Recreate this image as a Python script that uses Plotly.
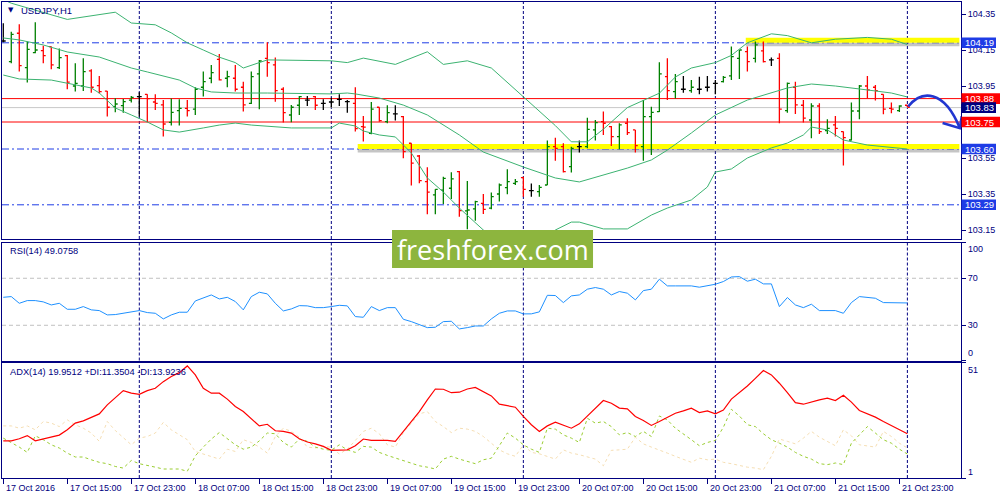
import plotly.graph_objects as go

# ---------------- data ----------------
bar_idx = list(range(114))
opens = [104.200, 104.085, 104.243, 104.052, 104.135, 104.146, 104.169, 104.052, 104.119, 103.950,
         103.950, 104.034, 103.952, 103.922, 103.835, 103.841, 103.872, 103.891, 103.904, 103.861,
         103.845, 103.748, 103.813, 103.826, 103.822, 103.943, 103.993, 104.098, 103.993, 103.993,
         103.943, 103.854, 104.017, 104.104, 104.067, 103.932, 103.789, 103.843, 103.872, 103.891,
         103.854, 103.861, 103.876, 103.863, 103.854, 103.724, 103.687, 103.832, 103.752, 103.795,
         103.780, 103.632, 103.561, 103.419, 103.345, 103.372, 103.382, 103.474, 103.256, 103.267,
         103.298, 103.271, 103.350, 103.385, 103.409, 103.441, 103.369, 103.363, 103.400, 103.613,
         103.613, 103.502, 103.613, 103.613, 103.706, 103.752, 103.724, 103.669, 103.743, 103.706,
         103.613, 103.780, 103.808, 104.002, 103.919, 103.932, 103.924, 103.932, 103.943, 103.965,
         103.974, 104.006, 104.104, 104.141, 104.104, 104.145, 104.095, 104.104, 103.813, 103.943,
         103.843, 103.761, 103.839, 103.702, 103.734, 103.697, 103.650, 103.811, 103.950, 103.943,
         103.904, 103.826, 103.813, 103.843]
highs = [104.298, 104.252, 104.293, 104.197, 104.304, 104.174, 104.169, 104.159, 104.122, 104.076,
         104.104, 104.043, 104.006, 103.922, 103.882, 103.878, 103.895, 103.915, 103.904, 103.904,
         103.872, 103.880, 103.876, 103.872, 103.943, 104.030, 104.067, 104.128, 104.035, 104.067,
         103.974, 104.030, 104.095, 104.193, 104.108, 103.943, 103.845, 103.895, 103.895, 103.895,
         103.876, 103.885, 103.904, 103.872, 103.943, 103.784, 103.861, 103.832, 103.843, 103.843,
         103.784, 103.632, 103.567, 103.498, 103.376, 103.446, 103.471, 103.478, 103.422, 103.313,
         103.350, 103.359, 103.409, 103.487, 103.434, 103.446, 103.409, 103.400, 103.647, 103.663,
         103.632, 103.613, 103.647, 103.774, 103.761, 103.808, 103.728, 103.743, 103.771, 103.706,
         103.872, 103.835, 104.082, 104.104, 104.017, 104.006, 103.984, 104.002, 104.006, 103.984,
         104.006, 104.169, 104.150, 104.169, 104.197, 104.197, 104.109, 104.132, 103.969, 103.974,
         103.872, 103.854, 103.854, 103.765, 103.784, 103.697, 103.858, 103.956, 104.006, 103.956,
         103.904, 103.858, 103.843, 103.843]
lows = [104.193, 104.076, 104.030, 103.969, 104.132, 104.076, 104.043, 104.045, 103.932, 103.919,
        103.922, 103.913, 103.909, 103.780, 103.804, 103.802, 103.858, 103.780, 103.748, 103.817,
        103.669, 103.730, 103.730, 103.780, 103.789, 103.891, 103.965, 103.980, 103.943, 103.919,
        103.808, 103.850, 103.821, 104.002, 103.863, 103.747, 103.748, 103.789, 103.839, 103.817,
        103.817, 103.830, 103.839, 103.802, 103.697, 103.641, 103.682, 103.752, 103.743, 103.758,
        103.548, 103.397, 103.410, 103.237, 103.237, 103.295, 103.322, 103.224, 103.154, 103.202,
        103.239, 103.265, 103.308, 103.348, 103.400, 103.335, 103.335, 103.335, 103.400, 103.535,
        103.469, 103.469, 103.580, 103.604, 103.647, 103.678, 103.617, 103.598, 103.678, 103.580,
        103.535, 103.567, 103.806, 103.872, 103.880, 103.913, 103.913, 103.904, 103.919, 103.904,
        103.969, 103.984, 103.989, 104.030, 104.080, 104.080, 104.061, 103.743, 103.802, 103.795,
        103.747, 103.660, 103.683, 103.683, 103.669, 103.508, 103.647, 103.765, 103.882, 103.869,
        103.793, 103.798, 103.806, 103.832]
closes = [104.200, 104.237, 104.063, 104.154, 104.150, 104.119, 104.067, 104.108, 103.971, 103.965,
          104.030, 103.943, 103.919, 103.832, 103.850, 103.863, 103.887, 103.891, 103.880, 103.854,
          103.739, 103.804, 103.826, 103.813, 103.932, 103.974, 104.024, 103.984, 104.002, 103.932,
          103.845, 104.002, 104.089, 104.080, 103.924, 103.802, 103.832, 103.891, 103.872, 103.843,
          103.854, 103.861, 103.876, 103.863, 103.713, 103.721, 103.822, 103.758, 103.802, 103.795,
          103.585, 103.521, 103.424, 103.360, 103.376, 103.437, 103.434, 103.258, 103.261, 103.308,
          103.265, 103.335, 103.400, 103.419, 103.419, 103.376, 103.369, 103.387, 103.613, 103.604,
          103.474, 103.604, 103.613, 103.709, 103.746, 103.743, 103.669, 103.734, 103.691, 103.619,
          103.780, 103.804, 104.017, 103.924, 103.974, 103.932, 103.943, 103.932, 103.943, 103.965,
          103.998, 104.113, 104.150, 104.085, 104.178, 104.085, 104.095, 103.821, 103.965, 103.845,
          103.771, 103.839, 103.697, 103.715, 103.715, 103.663, 103.811, 103.950, 103.928, 103.924,
          103.821, 103.821, 103.839, 103.832]

bb_upper_x = [0, 1, 8, 11, 14, 16, 19, 21, 23, 25, 27, 29, 30, 33, 41, 43, 45, 49, 53, 55, 58, 61,
              65, 69, 71, 73, 75, 78, 80, 82, 84, 86, 89, 91, 93, 96, 98, 101, 104, 108, 111, 113]
bb_upper = [104.43, 104.41, 104.32, 104.34, 104.36, 104.30, 104.29, 104.245, 104.19, 104.15, 104.11,
            104.08, 104.05, 104.095, 104.09, 104.08, 104.105, 104.07, 104.14, 104.07, 104.09, 104.05,
            103.89, 103.73, 103.64, 103.64, 103.71, 103.83, 103.87, 103.91, 104.00, 104.05, 104.08,
            104.12, 104.19, 104.24, 104.23, 104.19, 104.21, 104.22, 104.21, 104.18]
bb_mid_x = [0, 2, 5, 8, 12, 16, 18, 22, 24, 26, 29, 33, 41, 43, 44, 47, 50, 53, 57, 60, 65, 69, 72,
            75, 78, 81, 83, 86, 89, 93, 98, 101, 104, 108, 111, 113]
bb_mid = [104.217, 104.206, 104.178, 104.139, 104.111, 104.05, 104.028, 103.983, 103.939, 103.917,
          103.911, 103.911, 103.906, 103.911, 103.906, 103.883, 103.844, 103.789, 103.678, 103.583,
          103.50, 103.439, 103.417, 103.456, 103.494, 103.539, 103.594, 103.689, 103.789, 103.872,
          103.939, 103.961, 103.95, 103.928, 103.911, 103.889]
bb_low_x = [0, 2, 6, 8, 11, 12, 14, 16, 18, 20, 22, 25, 27, 29, 31, 36, 41, 42, 44, 45, 47, 49, 51,
            53, 55, 57, 60, 63, 66, 69, 71, 72, 75, 78, 81, 83, 86, 88, 89, 91, 93, 96, 98, 100, 101,
            103, 105, 108, 111, 113]
bb_low = [104.011, 103.989, 103.983, 103.967, 103.939, 103.911, 103.828, 103.789, 103.75, 103.706,
          103.694, 103.717, 103.733, 103.744, 103.733, 103.717, 103.717, 103.744, 103.728, 103.70,
          103.678, 103.667, 103.578, 103.439, 103.361, 103.272, 103.15, 103.07, 103.06, 103.15,
          103.194, 103.194, 103.156, 103.156, 103.233, 103.272, 103.317, 103.389, 103.472, 103.489,
          103.55, 103.606, 103.633, 103.678, 103.722, 103.706, 103.65, 103.622, 103.611, 103.60]

rsi = [53.8, 54.4, 48.7, 51.0, 51.0, 49.9, 47.3, 48.7, 43.6, 43.6,
       45.9, 43.1, 42.5, 38.8, 39.1, 40.2, 41.4, 42.5, 40.8, 40.2,
       35.4, 38.8, 41.1, 41.1, 50.7, 53.0, 55.8, 52.4, 53.8, 50.2,
       43.1, 54.4, 58.1, 56.7, 48.7, 42.2, 43.9, 46.7, 46.5, 45.0,
       45.0, 45.9, 47.0, 46.5, 37.4, 36.8, 45.9, 42.5, 45.0, 45.0,
       35.1, 33.1, 30.3, 28.0, 28.3, 33.1, 33.4, 26.9, 28.0, 29.4,
       29.4, 35.4, 40.2, 42.2, 42.2, 39.7, 39.7, 41.4, 55.5, 55.3,
       49.3, 55.0, 55.8, 60.7, 62.1, 60.7, 55.8, 58.7, 57.3, 51.6,
       59.5, 60.7, 69.2, 63.5, 63.5, 63.5, 63.5, 62.4, 63.5, 64.9,
       67.2, 71.1, 71.4, 67.5, 69.2, 65.2, 65.2, 45.9, 53.6, 47.3,
       45.0, 47.9, 42.5, 42.5, 42.5, 40.2, 49.3, 54.4, 53.8, 53.0,
       49.3, 49.0, 49.0, 49.0]
adx = [17.1, 17.1, 18.0, 19.4, 17.1, 18.0, 19.0, 19.6, 21.9, 24.8,
       25.8, 27.2, 28.8, 32.7, 36.0, 38.9, 37.8, 37.3, 38.9, 39.9,
       42.8, 45.0, 46.7, 49.6, 45.7, 39.9, 37.8, 37.8, 35.2, 32.0,
       29.8, 26.5, 23.6, 24.3, 21.5, 21.2, 20.5, 18.0, 16.6, 15.8,
       14.7, 13.0, 13.2, 13.2, 15.0, 17.9, 17.3, 17.3, 17.3, 16.9,
       21.2, 25.5, 29.8, 34.9, 39.6, 39.5, 38.0, 38.2, 39.6, 40.3,
       38.5, 36.6, 33.0, 32.4, 31.7, 27.7, 24.1, 21.2, 23.6, 25.2,
       23.8, 22.6, 24.5, 27.9, 31.5, 34.6, 33.4, 31.3, 31.0, 27.7,
       25.9, 23.8, 25.5, 27.4, 29.1, 30.1, 31.3, 29.4, 30.1, 28.8,
       30.5, 35.2, 38.0, 40.9, 44.2, 47.6, 45.7, 42.1, 38.0, 33.7,
       33.0, 34.1, 34.9, 35.6, 34.6, 36.9, 33.9, 30.3, 28.8, 27.4,
       25.5, 23.8, 21.9, 20.2]
plus_di = [18.3, 16.4, 14.4, 12.1, 19.3, 17.6, 15.4, 14.0, 11.8, 10.1,
           10.1, 8.9, 7.8, 7.2, 6.0, 5.3, 8.6, 7.2, 6.3, 5.7,
           4.9, 4.9, 4.9, 3.9, 10.6, 14.4, 17.9, 20.7, 17.9, 15.4,
           13.5, 14.4, 17.1, 20.5, 20.2, 16.4, 14.4, 17.9, 16.9, 14.4,
           13.5, 13.0, 15.4, 13.2, 12.1, 14.7, 14.4, 12.1, 10.8, 9.6,
           8.6, 7.5, 6.3, 5.7, 4.9, 9.2, 10.4, 9.2, 8.2, 7.2,
           8.9, 9.6, 15.0, 20.5, 18.3, 15.4, 13.5, 12.1, 22.6, 22.2,
           19.7, 18.3, 16.4, 26.9, 24.8, 25.5, 23.3, 19.7, 20.7, 19.0,
           21.2, 19.0, 27.9, 26.2, 22.6, 20.2, 17.6, 15.0, 16.4, 17.3,
           23.0, 30.8, 27.9, 24.1, 23.3, 20.2, 17.6, 16.1, 14.4, 12.1,
           10.4, 9.2, 7.2, 6.8, 7.5, 6.8, 16.1, 19.7, 23.3, 20.5,
           17.6, 16.1, 13.5, 11.4]
minus_di = [23.6, 23.6, 22.6, 23.6, 21.9, 25.5, 24.8, 23.3, 26.2, 24.1,
            22.6, 20.5, 16.9, 25.5, 21.6, 18.3, 15.4, 18.3, 19.0, 20.5,
            25.1, 21.9, 19.7, 17.6, 12.5, 11.4, 10.4, 9.2, 13.5, 12.5,
            17.6, 16.4, 14.4, 11.8, 19.0, 22.6, 21.2, 18.7, 14.4, 14.0,
            14.7, 14.4, 11.4, 13.5, 17.3, 21.2, 22.6, 20.2, 15.4, 14.4,
            20.7, 24.8, 28.8, 29.8, 25.5, 23.3, 20.7, 22.6, 22.2, 21.2,
            19.0, 16.1, 13.2, 11.5, 10.4, 15.4, 12.1, 11.5, 10.4, 9.2,
            13.2, 11.8, 11.1, 10.1, 9.2, 6.3, 13.0, 13.2, 13.5, 18.7,
            15.8, 14.4, 13.2, 11.8, 10.4, 9.2, 7.8, 9.6, 8.9, 9.2,
            7.8, 7.2, 6.3, 5.7, 5.3, 4.6, 10.4, 17.9, 16.9, 15.8,
            18.3, 21.2, 18.7, 16.9, 15.0, 21.9, 19.3, 15.4, 15.0, 14.4,
            21.2, 19.0, 16.1, 14.0]

time_tick_pos = [0, 8, 16, 24, 32, 40, 48, 56, 64, 72, 80, 88, 96, 104, 112]
time_tick_labels = ["17 Oct 2016", "17 Oct 15:00", "17 Oct 23:00", "18 Oct 07:00", "18 Oct 15:00",
                    "18 Oct 23:00", "19 Oct 07:00", "19 Oct 15:00", "19 Oct 23:00", "20 Oct 07:00",
                    "20 Oct 15:00", "20 Oct 23:00", "21 Oct 07:00", "21 Oct 15:00", "21 Oct 23:00"]
day_separators = [17, 41, 65, 89, 113]
price_ticks = [103.15, 103.35, 103.55, 103.75, 103.95, 104.15, 104.35]
blue_levels = [104.19, 103.60, 103.29]
red_levels = [103.88, 103.75]
bid_price = 103.83
yellow_levels = [104.19, 103.60]
yellow_start = [92.8, 44.3]
rsi_levels = [70, 30]

# ---------------- style ----------------
NAVY = "#000080"
FONT = "Liberation Sans"
BLUE = "#1e3ce6"
X_RANGE = [-0.16, 119.7]
Y_RANGE = [103.100, 104.4167]

fig = go.Figure()

def subset(idx_list, color):
    return go.Ohlc(
        x=[bar_idx[i] for i in idx_list],
        open=[opens[i] for i in idx_list], high=[highs[i] for i in idx_list],
        low=[lows[i] for i in idx_list], close=[closes[i] for i in idx_list],
        increasing=dict(line=dict(color=color, width=1.3)),
        decreasing=dict(line=dict(color=color, width=1.3)),
        tickwidth=0.3, hoverinfo="skip", showlegend=False, xaxis="x", yaxis="y")

up = [i for i in bar_idx if closes[i] > opens[i]]
down = [i for i in bar_idx if closes[i] < opens[i]]
doji = [i for i in bar_idx if closes[i] == opens[i]]

band_color = "#3cb371"
for bx, by in [(bb_upper_x, bb_upper), (bb_mid_x, bb_mid), (bb_low_x, bb_low)]:
    fig.add_trace(go.Scatter(x=bx, y=by, mode="lines", line=dict(color=band_color, width=1),
                             hoverinfo="skip", showlegend=False, xaxis="x", yaxis="y"))

fig.add_trace(subset(up, "#008000"))
fig.add_trace(subset(down, "#ff0000"))
fig.add_trace(subset(doji, "#000000"))

fig.add_trace(go.Scatter(x=bar_idx, y=rsi, mode="lines", line=dict(color="#1e90ff", width=1),
                         hoverinfo="skip", showlegend=False, xaxis="x2", yaxis="y2"))

fig.add_trace(go.Scatter(x=bar_idx, y=minus_di, mode="lines",
                         line=dict(color="#f5deb3", width=1, dash="3px,3px"),
                         hoverinfo="skip", showlegend=False, xaxis="x3", yaxis="y3"))
fig.add_trace(go.Scatter(x=bar_idx, y=plus_di, mode="lines",
                         line=dict(color="#9acd32", width=1, dash="3px,3px"),
                         hoverinfo="skip", showlegend=False, xaxis="x3", yaxis="y3"))
fig.add_trace(go.Scatter(x=bar_idx, y=adx, mode="lines", line=dict(color="#ff0000", width=1.2),
                         hoverinfo="skip", showlegend=False, xaxis="x3", yaxis="y3"))

shapes = []
# yellow highlight bands with shadow
for lvl, xs in zip(yellow_levels, yellow_start):
    shapes.append(dict(type="rect", xref="x", yref="y", x0=xs, x1=X_RANGE[1] - 0.2,
                       y0=lvl - 0.019, y1=lvl, fillcolor="rgba(90,90,90,0.35)",
                       line=dict(width=0), layer="below"))
    shapes.append(dict(type="rect", xref="x", yref="y", x0=xs, x1=X_RANGE[1] - 0.2,
                       y0=lvl, y1=lvl + 0.028, fillcolor="#ffff00",
                       line=dict(width=0), layer="below"))
# separators
for sep in day_separators:
    for xr, yr in [("x", "y domain"), ("x2", "y2 domain"), ("x3", "y3 domain")]:
        shapes.append(dict(type="line", xref=xr, yref=yr, x0=sep, x1=sep, y0=0, y1=1,
                           line=dict(color=NAVY, width=1, dash="3px,2px"), layer="below"))
# bid line
shapes.append(dict(type="line", xref="x domain", yref="y", x0=0, x1=1, y0=bid_price, y1=bid_price,
                   line=dict(color="#c8c8c8", width=1), layer="below"))
for lvl in red_levels:
    shapes.append(dict(type="line", xref="x domain", yref="y", x0=0, x1=1, y0=lvl, y1=lvl,
                       line=dict(color="#ff0000", width=1), layer="below"))
for lvl in blue_levels:
    shapes.append(dict(type="line", xref="x domain", yref="y", x0=0, x1=1, y0=lvl, y1=lvl,
                       line=dict(color=BLUE, width=1, dash="7px,3px,2px,3px"), layer="below"))
for lvl in rsi_levels:
    shapes.append(dict(type="line", xref="x2 domain", yref="y2", x0=0, x1=1, y0=lvl, y1=lvl,
                       line=dict(color="#c0c0c0", width=1, dash="4px,3px"), layer="below"))

# curved forecast arrow
shapes.append(dict(type="path", xref="x", yref="y",
                   path="M 113.1,103.836 C 114.8,103.93 117.6,103.93 119.55,103.716",
                   line=dict(color="#2236d0", width=2.6), layer="above"))
shapes.append(dict(type="path", xref="x", yref="y",
                   path="M 117.4,103.745 L 119.55,103.716 L 119.8,103.782",
                   line=dict(color="#2236d0", width=2.6), layer="above"))

# right-side price label boxes
label_boxes = [(104.19, BLUE, 1.0365), (103.88, "#ff0000", 1.045), (103.83, NAVY, 1.0365),
               (103.75, "#ff0000", 1.045), (103.60, BLUE, 1.0365), (103.29, BLUE, 1.0365)]
annotations = []
for lvl, col, xe in label_boxes:
    shapes.append(dict(type="rect", xref="paper", yref="y", x0=1.0005, x1=xe,
                       y0=lvl - 0.0295, y1=lvl + 0.0295, fillcolor=col, line=dict(width=0),
                       layer="above"))
    annotations.append(dict(xref="paper", yref="y", x=1.0005, y=lvl, xanchor="left",
                            yanchor="middle", xshift=2, text=f"{lvl:.2f}", showarrow=False,
                            font=dict(family=FONT, size=9.5, color="white")))

# watermark
shapes.append(dict(type="rect", xref="paper", yref="paper", x0=0.4067, x1=0.6163, y0=0.4412,
                   y1=0.5210, fillcolor="#8db53e", line=dict(width=0), layer="above"))
annotations.append(dict(xref="paper", yref="paper", x=0.5115, y=0.481, text="freshforex.com",
                        showarrow=False, xanchor="center", yanchor="middle",
                        font=dict(family="Open Sans", size=27, color="white")))

# panel titles
annotations.append(dict(xref="x domain", yref="y domain", x=0.0042, y=0.966, text="▼",
                        showarrow=False, xanchor="left", yanchor="middle",
                        font=dict(family="DejaVu Sans", size=7, color=NAVY)))
annotations.append(dict(xref="x domain", yref="y domain", x=0.0177, y=0.966, text="USDJPY,H1",
                        showarrow=False, xanchor="left", yanchor="middle",
                        font=dict(family=FONT, size=9.5, color=NAVY)))
annotations.append(dict(xref="x2 domain", yref="y2 domain", x=0.0063, y=0.932,
                        text="RSI(14) 49.0758", showarrow=False, xanchor="left", yanchor="middle",
                        font=dict(family=FONT, size=9.3, color=NAVY)))
annotations.append(dict(xref="x3 domain", yref="y3 domain", x=0.0063, y=0.92,
                        text="ADX(14) 19.9512 +DI:11.3504 -DI:13.9236", showarrow=False,
                        xanchor="left", yanchor="middle",
                        font=dict(family=FONT, size=9.3, color=NAVY)))

# indicator scale end labels
for txt, yref, yv, sh in [("100", "y2", 100, -6.5), ("0", "y2", 0, 7.5),
                          ("51", "y3", 51, -7.3), ("1", "y3", 1, 5.6)]:
    annotations.append(dict(xref="paper", yref=yref, x=1.0, y=yv, xanchor="left",
                            yanchor="middle", xshift=5, yshift=sh, text=txt, showarrow=False,
                            font=dict(family=FONT, size=9, color=NAVY)))

# time axis labels (left-aligned at tick)
for pos, lab in zip(time_tick_pos, time_tick_labels):
    annotations.append(dict(xref="x3", yref="y3 domain", x=pos, y=0, xanchor="left",
                            yanchor="top", xshift=1, yshift=-3, text=lab, showarrow=False,
                            font=dict(family=FONT, size=9, color=NAVY)))

axis_common = dict(showgrid=False, zeroline=False, showline=True, mirror=True,
                   linecolor=NAVY, linewidth=1)

fig.update_layout(
    width=1000, height=500,
    margin=dict(l=2, r=39, t=2, b=22),
    paper_bgcolor="white", plot_bgcolor="white",
    showlegend=False,
    shapes=shapes, annotations=annotations,
    xaxis=dict(domain=[0, 1], range=X_RANGE, anchor="y", showticklabels=False, ticks="",
               rangeslider=dict(visible=False), **axis_common),
    xaxis2=dict(domain=[0, 1], range=X_RANGE, anchor="y2", matches="x", showticklabels=False,
                ticks="", **axis_common),
    xaxis3=dict(domain=[0, 1], range=X_RANGE, anchor="y3", matches="x", showticklabels=False,
                ticks="outside", ticklen=5, tickcolor=NAVY, tickvals=time_tick_pos,
                **axis_common),
    yaxis=dict(domain=[0.5021, 1.0], range=Y_RANGE, anchor="x", side="right",
               tickvals=price_ticks, tickformat=".2f", ticks="outside", ticklen=4,
               tickcolor=NAVY, tickfont=dict(family=FONT, size=9, color=NAVY), **axis_common),
    yaxis2=dict(domain=[0.2468, 0.4937], range=[0, 100], anchor="x2", side="right",
                tickvals=[0, 30, 70, 100], ticktext=["", "30", "70", ""], ticks="outside",
                ticklen=4, tickcolor=NAVY, tickfont=dict(family=FONT, size=9, color=NAVY),
                **axis_common),
    yaxis3=dict(domain=[0.0, 0.2422], range=[1, 51], anchor="x3", side="right",
                tickvals=[1, 51], ticktext=["", ""], ticks="outside", ticklen=4,
                tickcolor=NAVY, tickfont=dict(family=FONT, size=9, color=NAVY),
                **axis_common),
)

fig.write_html("out.html", config={"displayModeBar": False},
               post_script="document.body.style.margin='0px';document.body.style.overflow='hidden';")
